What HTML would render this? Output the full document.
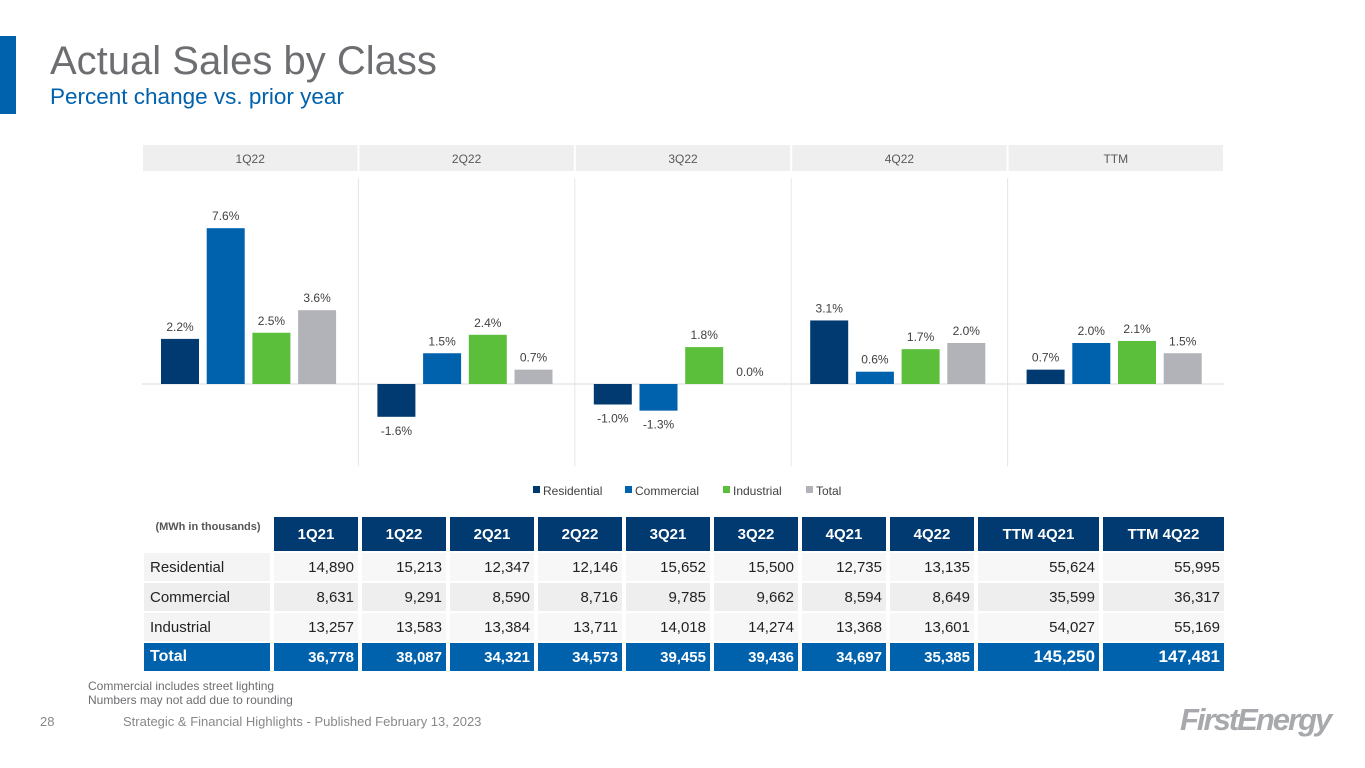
<!DOCTYPE html>
<html><head><meta charset="utf-8"><style>
body{margin:0;width:1365px;height:768px;background:#fff;font-family:"Liberation Sans",Arial,sans-serif;position:relative;overflow:hidden}
.abs{position:absolute}
table{position:absolute;left:140px;top:515px;border-collapse:separate;border-spacing:4px 2px;font-size:15px;color:#222}
td{height:28px;padding:0 4px;text-align:right}
td.l{text-align:left;width:116px;padding-left:6px;background:#f4f4f4}
tr.h td{background:#003a70;color:#fff;font-weight:bold;text-align:center;font-size:15px;height:30px}
tr.h td.l{background:#fff;color:#555;font-size:11px;vertical-align:top;padding-top:4px}
tr.r td.d{background:#f7f7f7}
tr.t td{background:#0061ad;color:#fff;font-weight:bold}
</style></head><body>
<div class="abs" style="left:0;top:36px;width:16px;height:78px;background:#0061ad"></div>
<div class="abs" style="left:50px;top:39px;font-size:40px;color:#6d6e71">Actual Sales by Class</div>
<div class="abs" style="left:50px;top:84px;font-size:22.5px;color:#0061ad">Percent change vs. prior year</div>
<svg class="abs" style="left:0;top:0" width="1365" height="510" id="chart"></svg>
<table>
<tr class="h"><td class="l">(MWh in thousands)</td><td style="width:76px">1Q21</td><td style="width:76px">1Q22</td><td style="width:76px">2Q21</td><td style="width:76px">2Q22</td><td style="width:76px">3Q21</td><td style="width:76px">3Q22</td><td style="width:76px">4Q21</td><td style="width:76px">4Q22</td><td style="width:113px">TTM 4Q21</td><td style="width:113px">TTM 4Q22</td></tr>
<tr class="r"><td class="l">Residential</td><td class="d">14,890</td><td class="d">15,213</td><td class="d">12,347</td><td class="d">12,146</td><td class="d">15,652</td><td class="d">15,500</td><td class="d">12,735</td><td class="d">13,135</td><td class="d">55,624</td><td class="d">55,995</td></tr>
<tr class="r"><td class="l" style="background:#eee">Commercial</td><td class="d" style="background:#eee">8,631</td><td class="d" style="background:#eee">9,291</td><td class="d" style="background:#eee">8,590</td><td class="d" style="background:#eee">8,716</td><td class="d" style="background:#eee">9,785</td><td class="d" style="background:#eee">9,662</td><td class="d" style="background:#eee">8,594</td><td class="d" style="background:#eee">8,649</td><td class="d" style="background:#eee">35,599</td><td class="d" style="background:#eee">36,317</td></tr>
<tr class="r"><td class="l">Industrial</td><td class="d">13,257</td><td class="d">13,583</td><td class="d">13,384</td><td class="d">13,711</td><td class="d">14,018</td><td class="d">14,274</td><td class="d">13,368</td><td class="d">13,601</td><td class="d">54,027</td><td class="d">55,169</td></tr>
<tr class="t"><td class="l" style="background:#0061ad;font-size:16px">Total</td><td>36,778</td><td>38,087</td><td>34,321</td><td>34,573</td><td>39,455</td><td>39,436</td><td>34,697</td><td>35,385</td><td style="font-size:17px">145,250</td><td style="font-size:17px">147,481</td></tr>
</table>
<div class="abs" style="left:88px;top:679px;font-size:12px;color:#6d6e71;line-height:14px">Commercial includes street lighting<br>Numbers may not add due to rounding</div>
<div class="abs" style="left:40px;top:714px;font-size:13px;color:#888">28</div>
<div class="abs" style="left:123px;top:714px;font-size:13px;color:#888">Strategic &amp; Financial Highlights - Published February 13, 2023</div>
<div class="abs" style="left:1180px;top:702px;font-size:31px;font-style:italic;font-weight:bold;color:#a7a9ac;letter-spacing:-2px">FirstEnergy</div>
<script>
const periods=["1Q22","2Q22","3Q22","4Q22","TTM"];
const seriesNames=["Residential","Commercial","Industrial","Total"];
const residential=[2.2,-1.6,-1.0,3.1,0.7];
const commercial=[7.6,1.5,-1.3,0.6,2.0];
const industrial=[2.5,2.4,1.8,1.7,2.1];
const total=[3.6,0.7,0.0,2.0,1.5];
const colors=["#003a70","#0061ad","#5cbf3c","#b1b3b8"];
const svg=document.getElementById('chart');const NS="http://www.w3.org/2000/svg";
function mk(t,a){const e=document.createElementNS(NS,t);for(const k in a)e.setAttribute(k,a[k]);svg.appendChild(e);return e;}
const x0=142,pw=216.4,base=384,k=20.5;
const y=v=>base-v*k;
const all=[residential,commercial,industrial,total];
periods.forEach((p,i)=>{
 const px=x0+i*pw;
 const h=mk('rect',{x:px+1,y:145,width:pw-2,height:26,fill:'#efefef'});
 
 
 const t=mk('text',{x:px+pw/2,y:163,'text-anchor':'middle','font-size':12,fill:'#595959'});t.textContent=p;
 
 
 if(i>0){const l=mk('line',{x1:px,x2:px,y1:178,y2:466,stroke:'#e6e6e6'});}
 mk('line',{x1:px,x2:px+pw,y1:base,y2:base,stroke:'#d9d9d9'});
 all.forEach((s,j)=>{
  const v=s[i];const bx=px+19+j*45.7;
  const r=mk('rect',{x:bx,y:Math.min(y(v),base),width:38,height:Math.abs(y(v)-base),fill:colors[j]});
  
  
  const ly=v>=0?y(v)-8:y(v)+18;
  const tl=mk('text',{x:bx+19,y:ly,'text-anchor':'middle','font-size':12,fill:'#404040'});tl.textContent=v.toFixed(1)+'%';
  
  
 });
});
const lx=[533,625,723,806];
seriesNames.forEach((n,j)=>{
 const r=mk('rect',{x:lx[j],y:486,width:7,height:7,fill:colors[j]});
 
 
 const t=mk('text',{x:lx[j]+10,y:495,'font-size':12,fill:'#404040'});t.textContent=n;
 
 
});
</script>
</body></html>
